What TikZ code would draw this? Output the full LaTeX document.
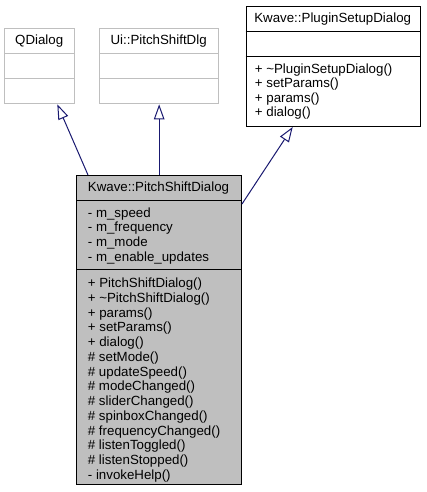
\documentclass[tikz,border=0pt]{standalone}
\usepackage{fontspec}
\setmainfont{Liberation Sans}
\usetikzlibrary{arrows.meta,calc}

\definecolor{edgeblue}{RGB}{25,25,112}
\definecolor{classgray}{RGB}{191,191,191}

\begin{document}
\begin{tikzpicture}[
    x=1pt, y=-1pt,
    classbox/.style={draw, rectangle, inner sep=0pt, anchor=north west, line width=1pt},
    extbox/.style={classbox, draw=classgray},
    member/.style={inner sep=0pt, anchor=base west, font=\fontsize{13.3}{14.7}\selectfont},
    title/.style={member, anchor=base},
    inherit/.style={draw=edgeblue, line width=1pt, -{Triangle[open, length=15pt, width=10.5pt]}}
]
\useasboundingbox (0,0) rectangle (426,492);

% Base classes
\node[extbox, minimum width=69.7pt, minimum height=75pt] (qdialog) at (4.3,28.3) {};
\draw[classgray, line width=1pt] ($(qdialog.north west)+(0,25)$) -- ($(qdialog.north east)+(0,25)$);
\draw[classgray, line width=1pt] ($(qdialog.north west)+(0,50.7)$) -- ($(qdialog.north east)+(0,50.7)$);
\node[title] (qdialogname) at (39.2,45) {QDialog};

\node[extbox, minimum width=119.3pt, minimum height=75pt] (ui) at (99,28.3) {};
\draw[classgray, line width=1pt] ($(ui.north west)+(0,25)$) -- ($(ui.north east)+(0,25)$);
\draw[classgray, line width=1pt] ($(ui.north west)+(0,50.7)$) -- ($(ui.north east)+(0,50.7)$);
\node[title] (uiname) at (158.65,45) {Ui::PitchShiftDlg};

\node[classbox, minimum width=174pt, minimum height=120.3pt] (plugin) at (245.7,5.7) {};
\draw[line width=1pt] ($(plugin.north west)+(0,26)$) -- ($(plugin.north east)+(0,26)$);
\draw[line width=1pt] ($(plugin.north west)+(0,51.3)$) -- ($(plugin.north east)+(0,51.3)$);
\node[title] (pluginname) at (332.7,22.7) {Kwave::PluginSetupDialog};
\foreach \m [count=\i from 0] in {{+ \textasciitilde PluginSetupDialog()}, {+ setParams()}, {+ params()}, {+ dialog()}}
    \node[member] (pluginop\i) at (254.7,73.3+14.5*\i) {\m};

% PitchShiftDialog
\node[classbox, fill=classgray, minimum width=165pt, minimum height=309pt] (main) at (76,175) {};
\draw[line width=1pt] ($(main.north west)+(0,25.7)$) -- ($(main.north east)+(0,25.7)$);
\draw[line width=1pt] ($(main.north west)+(0,94)$) -- ($(main.north east)+(0,94)$);
\node[title] (mainname) at (158.5,191.7) {Kwave::PitchShiftDialog};
\foreach \m [count=\i from 0] in {{- m\_speed}, {- m\_frequency}, {- m\_mode}, {- m\_enable\_updates}}
    \node[member] (mainattr\i) at (87.7,217.3+14.6*\i) {\m};
\foreach \m [count=\i from 0] in {{+ PitchShiftDialog()}, {+ \textasciitilde PitchShiftDialog()}, {+ params()},
    {+ setParams()}, {+ dialog()}, {\# setMode()}, {\# updateSpeed()}, {\# modeChanged()},
    {\# sliderChanged()}, {\# spinboxChanged()}, {\# frequencyChanged()}, {\# listenToggled()},
    {\# listenStopped()}, {- invokeHelp()}}
    \node[member] (mainop\i) at (87.7,287.5+14.77*\i) {\m};

% Inheritance
\draw[inherit] ($(main.north west)+(12,0)$) -- ($(qdialog.south west)+(53,0)$);
\draw[inherit] (ui.south |- main.north) -- (ui.south);
\draw[inherit] ($(main.north east)+(0,29)$) -- ($(plugin.south west)+(47,0)$);

\end{tikzpicture}
\end{document}
